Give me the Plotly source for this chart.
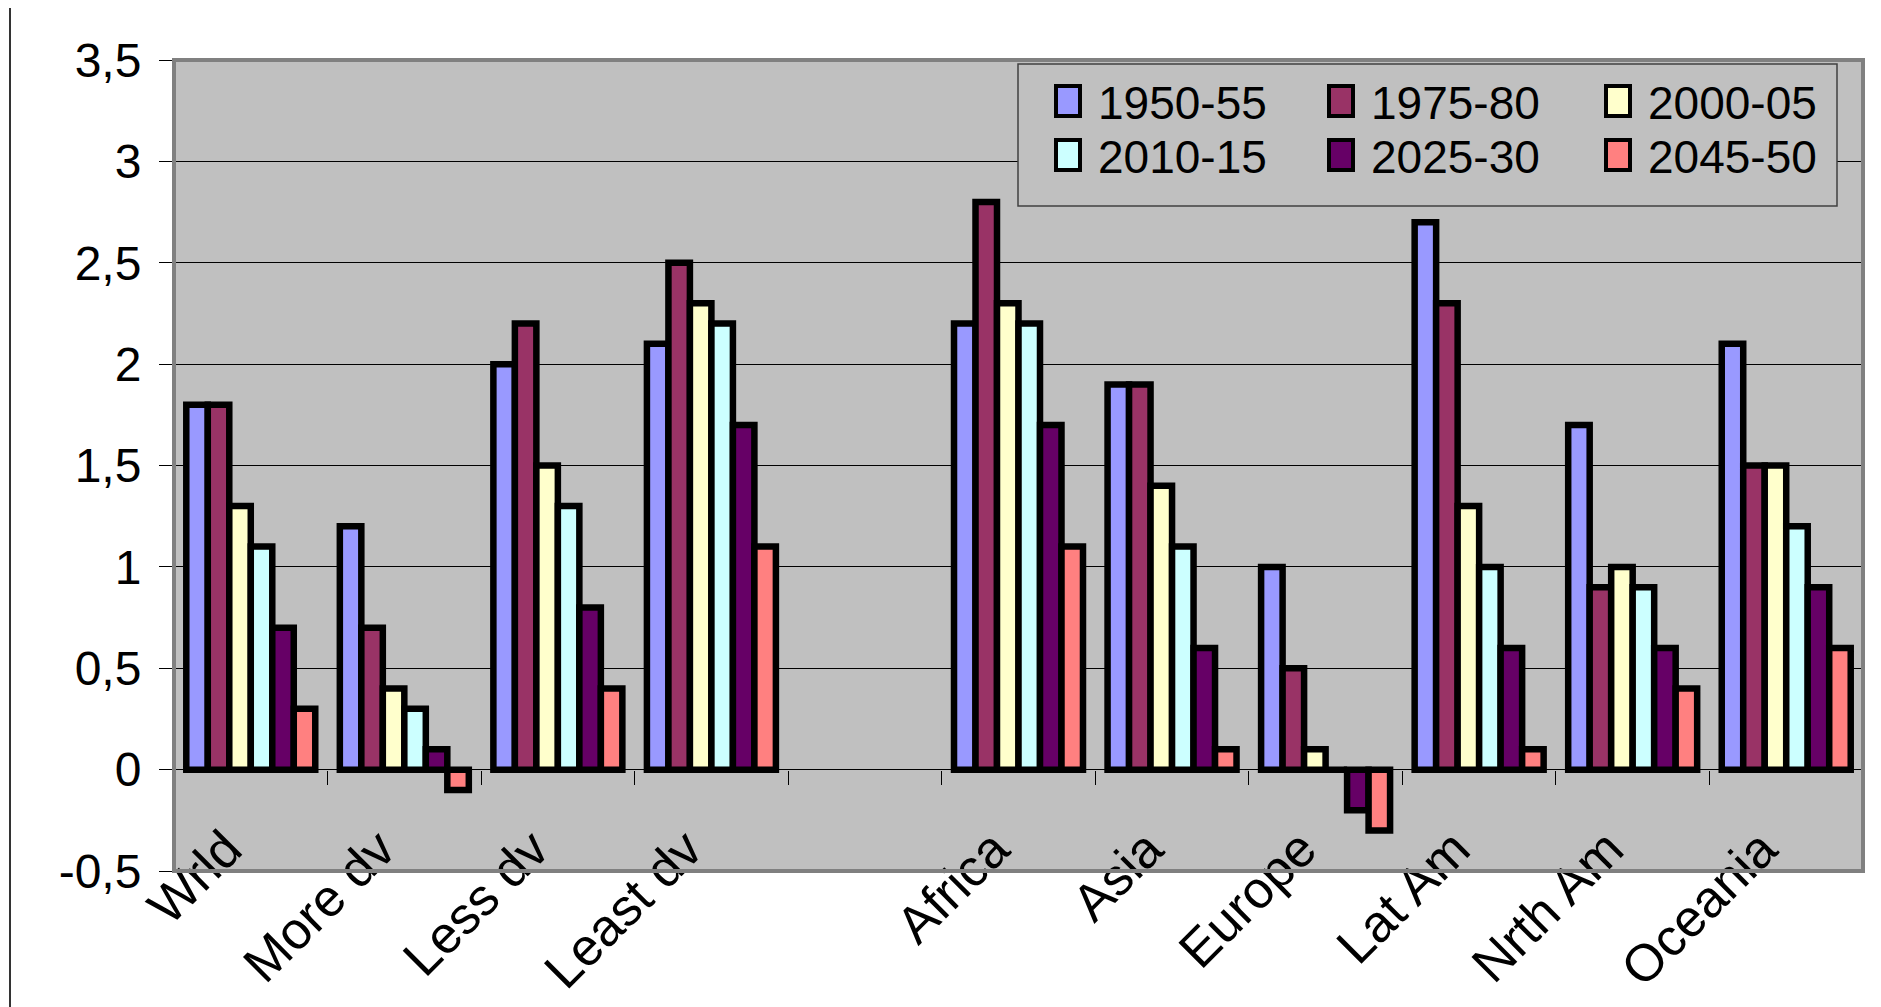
import plotly.graph_objects as go

categories = ["Wrld", "More dv", "Less dv", "Least dv", " ", "Africa", "Asia",
              "Europe", "Lat Am", "Nrth Am", "Oceania"]
periods = ["1950-55", "1975-80", "2000-05", "2010-15", "2025-30", "2045-50"]
v1950_55 = [1.8, 1.2, 2.0, 2.1, None, 2.2, 1.9, 1.0, 2.7, 1.7, 2.1]
v1975_80 = [1.8, 0.7, 2.2, 2.5, None, 2.8, 1.9, 0.5, 2.3, 0.9, 1.5]
v2000_05 = [1.3, 0.4, 1.5, 2.3, None, 2.3, 1.4, 0.1, 1.3, 1.0, 1.5]
v2010_15 = [1.1, 0.3, 1.3, 2.2, None, 2.2, 1.1, 0.0, 1.0, 0.9, 1.2]
v2025_30 = [0.7, 0.1, 0.8, 1.7, None, 1.7, 0.6, -0.2, 0.6, 0.6, 0.9]
v2045_50 = [0.3, -0.1, 0.4, 1.1, None, 1.1, 0.1, -0.3, 0.1, 0.4, 0.6]
series = [v1950_55, v1975_80, v2000_05, v2010_15, v2025_30, v2045_50]
colors = ["#9999FF", "#993366", "#FFFFCC", "#CCFFFF", "#660066", "#FF8080"]
ytickvals = [-0.5, 0, 0.5, 1, 1.5, 2, 2.5, 3, 3.5]
yticktext = ["-0,5", "0", "0,5", "1", "1,5", "2", "2,5", "3", "3,5"]

OFF = 8  # page body margin
W, H = 1881 - OFF, 1007 - OFF
L, R, T, B = 174 - OFF, 18, 60 - OFF, 136
PW, PH = W - L - R, H - T - B
FONT = "Arial, Liberation Sans, sans-serif"
NC = len(categories)


def px2x(px):
    return (px - OFF - L) / PW


def py2y(py):
    return (H - B - (py - OFF)) / PH


fig = go.Figure()
for name, vals, col in zip(periods, series, colors):
    fig.add_trace(go.Bar(
        x=categories, y=vals, name=name, showlegend=False,
        marker=dict(color=col, line=dict(color="black", width=6.5)),
    ))
# helper (empty) trace so the label axis gets drawn
fig.add_trace(go.Scatter(x=[], y=[], xaxis="x2", yaxis="y", showlegend=False,
                         hoverinfo="skip"))

shapes = []
shapes.append(dict(type="line", xref="paper", yref="paper", x0=px2x(10), x1=px2x(10),
                   y0=py2y(1007), y1=py2y(5), line=dict(color="#333333", width=2)))
# plot area border
shapes.append(dict(type="rect", xref="paper", yref="paper", x0=0, x1=1, y0=0, y1=1,
                   line=dict(color="#808080", width=4)))
# legend box
lx0, ly0, lx1, ly1 = 1018, 64, 1837, 206
shapes.append(dict(type="rect", xref="paper", yref="paper", x0=px2x(lx0), x1=px2x(lx1),
                   y0=py2y(ly1), y1=py2y(ly0), fillcolor="#C0C0C0",
                   line=dict(color="#404040", width=1.5)))
annotations = []
col_x = [1056, 1329, 1606]
row_y = [101, 155]
for i, (name, col) in enumerate(zip(periods, colors)):
    cx = col_x[i % 3]
    cy = row_y[i // 3]
    shapes.append(dict(type="rect", xref="paper", yref="paper",
                       x0=px2x(cx), x1=px2x(cx + 24), y0=py2y(cy + 15), y1=py2y(cy - 15),
                       fillcolor=col, line=dict(color="black", width=4)))
    annotations.append(dict(text=name, xref="paper", yref="paper", x=px2x(cx + 40),
                            y=py2y(cy + 2), xanchor="left", yanchor="middle",
                            showarrow=False,
                            font=dict(family=FONT, size=46, color="black")))

label_pos = [i - 0.16 for i in range(NC)]

fig.update_layout(
    width=W, height=H,
    margin=dict(l=L, r=R, t=T, b=B, autoexpand=False),
    paper_bgcolor="white",
    plot_bgcolor="#C0C0C0",
    barmode="group", bargap=0.16, bargroupgap=0,
    font=dict(family=FONT, color="black"),
    showlegend=False,
    shapes=shapes,
    annotations=annotations,
    xaxis=dict(
        type="category", range=[-0.5, NC - 0.5],
        anchor="free", position=0.125,
        showgrid=False, showline=False, zeroline=False,
        showticklabels=False, ticks="outside", tickson="boundaries",
        ticklen=14, tickcolor="black", tickwidth=1,
    ),
    xaxis2=dict(
        overlaying="x", anchor="y", side="bottom", type="linear",
        range=[-0.5, NC - 0.5], showgrid=False, showline=False, zeroline=False,
        tickmode="array", tickvals=label_pos, ticktext=categories, ticks="",
        tickangle=-45, tickfont=dict(family=FONT, size=52, color="black"),
        ticklabelstandoff=-64, automargin=False,
    ),
    yaxis=dict(
        range=[-0.5, 3.5], tickmode="array", tickvals=ytickvals, ticktext=yticktext,
        showgrid=True, gridcolor="black", gridwidth=1,
        zeroline=True, zerolinecolor="black", zerolinewidth=1,
        showline=False, ticks="outside", ticklen=14, tickcolor="black", tickwidth=1,
        tickfont=dict(family=FONT, size=48, color="black"), ticklabelstandoff=8,
        automargin=False,
    ),
)

fig.write_html("out.html")
